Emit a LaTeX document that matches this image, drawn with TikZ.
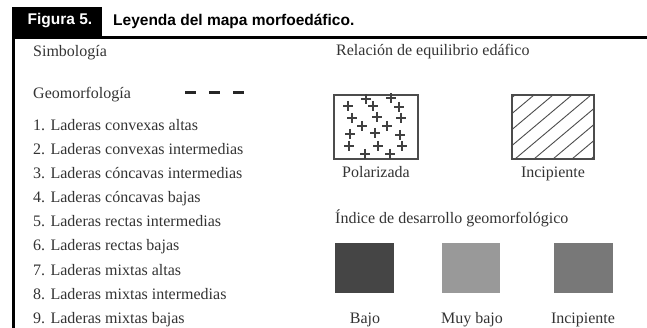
\documentclass[tikz,border=0pt]{standalone}
\usepackage{fontspec}
\setmainfont{Liberation Serif}
\newfontfamily\headfont{Liberation Sans}

\tikzset{
  txt/.style={anchor=west, inner sep=0pt, text height=11pt, text depth=3pt,
    text=black!80, font=\fontsize{16}{19}\selectfont},
  ctxt/.style={txt, anchor=center},
  head/.style={inner sep=0pt, font=\headfont\bfseries\fontsize{15.5}{18}\selectfont},
  frame/.style={line width=3pt},
  legbox/.style={draw=black!70, line width=1.5pt},
  crs/.style={black!75, line width=1.3pt},
}

\begin{document}
\begin{tikzpicture}[x=1pt,y=-1pt]
  \useasboundingbox (0,0) rectangle (647,328);

  % cabecera
  \fill (12,7) rectangle (102,37);
  \node[head, text=white] (fig) at (60,21) {Figura 5.};
  \node[head, anchor=west] (title) at (113,21) {Leyenda del mapa morfoedáfico.};
  \draw[frame] (13.5,328) -- (13.5,37.5) -- (647,37.5);

  % simbologia
  \node[txt] (simb) at (33,53) {Simbología};
  \node[txt] (geo) at (33,95) {Geomorfología};
  \draw[line width=3pt, black!85, dash pattern=on 11pt off 13pt] (185,93) -- (245,93);
  \foreach \t [count=\i] in {Laderas convexas altas, Laderas convexas intermedias,
      Laderas cóncavas intermedias, Laderas cóncavas bajas, Laderas rectas intermedias,
      Laderas rectas bajas, Laderas mixtas altas, Laderas mixtas intermedias,
      Laderas mixtas bajas}
    \node[txt] (lad\i) at (33,{102.4+24.1*\i}) {\i. \t};

  % equilibrio edafico
  \node[txt] (rel) at (336,52) {Relación de equilibrio edáfico};
  \draw[legbox] (334,95) rectangle (418,159);
  \foreach \x/\y in {366/99, 391/98, 348/106, 373/106, 399/107, 352/118, 377/117,
      401/118, 362/126, 387/126, 350/134, 375/133, 400/135, 349/146, 378/146,
      402/146, 365/154, 390/154}
    \draw[crs] (\x-5,\y) -- (\x+5,\y) (\x,\y-5) -- (\x,\y+5);
  \node[ctxt] (pol) at (376,173.5) {Polarizada};

  \begin{scope}
    \clip (512,95) rectangle (594,159);
    \foreach \k in {0,...,8}
      \draw[black!70, line width=0.9pt] ({439+19*\k},159) -- ++(76,-64);
  \end{scope}
  \draw[legbox] (512,95) rectangle (594,159);
  \node[ctxt] (inc) at (553,173.5) {Incipiente};

  % desarrollo geomorfologico
  \node[txt] (ind) at (335,219.5) {Índice de desarrollo geomorfológico};
  \fill[black!73] (335,243) rectangle (394,293);
  \fill[black!40] (442,243) rectangle (500,293);
  \fill[black!53] (554,243) rectangle (613,293);
  \node[ctxt] (bajo) at (365,319.5) {Bajo};
  \node[ctxt] (mbajo) at (472,319.5) {Muy bajo};
  \node[ctxt] (incd) at (583,319.5) {Incipiente};
\end{tikzpicture}
\end{document}
